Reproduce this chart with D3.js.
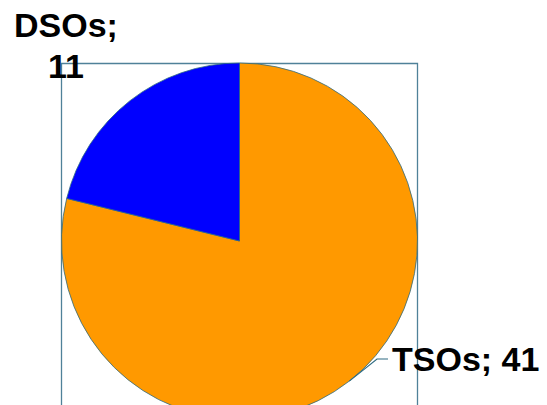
<!DOCTYPE html>
<html>
<head>
<meta charset="utf-8">
<script src="https://cdn.jsdelivr.net/npm/d3@7"></script>
<style>
  html, body { margin: 0; padding: 0; background: #fff; overflow: hidden; }
  svg { display: block; }
</style>
</head>
<body>
<svg id="chart"></svg>
<script>
// chart data
const categories = ["TSOs", "DSOs"];
const values = [41, 11];
const colors = ["#FF9900", "#0000FF"];

const width = 547, height = 405;
const cx = 239.5, cy = 241, r = 178;

const svg = d3.select("#chart")
  .attr("width", width)
  .attr("height", height);

// plot area frame (runs off the bottom)
svg.append("path")
  .attr("d", `M61.5,${height + 5} V63.5 H417.5 V${height + 5}`)
  .attr("fill", "none")
  .attr("stroke", "#4f8199")
  .attr("stroke-width", 1.3);

const pie = d3.pie().sort(null).value(d => d.value);
const arcs = pie(categories.map((c, i) => ({ name: c, value: values[i] })));
const arc = d3.arc().innerRadius(0).outerRadius(r);

const g = svg.append("g").attr("transform", `translate(${cx},${cy})`);

g.selectAll("path")
  .data(arcs)
  .enter().append("path")
    .attr("d", arc)
    .attr("fill", (d, i) => colors[i])
    .attr("stroke", "#2f6b82")
    .attr("stroke-width", 0.8)
    .attr("stroke-linejoin", "round");

// TSOs label with leader line
const tso = arcs[0];
const mid = (tso.startAngle + tso.endAngle) / 2;
const ex = Math.sin(mid) * r, ey = -Math.cos(mid) * r;
g.append("polyline")
  .attr("points", [[ex, ey], [377 - cx, 359 - cy], [388 - cx, 359 - cy]].map(p => p.join(",")).join(" "))
  .attr("fill", "none")
  .attr("stroke", "#2f6b82")
  .attr("stroke-width", 1.2);

svg.append("text")
  .attr("x", 392)
  .attr("y", 371)
  .style("font", "bold 34px 'Liberation Sans', Arial, sans-serif")
  .attr("fill", "#000")
  .text(`${categories[0]}; ${values[0]}`);

// DSOs label (two lines, centered)
const dso = svg.append("text")
  .attr("text-anchor", "middle")
  .style("font", "bold 34px 'Liberation Sans', Arial, sans-serif")
  .attr("fill", "#000");
dso.append("tspan").attr("x", 66).attr("y", 37).text(`${categories[1]};`);
dso.append("tspan").attr("x", 66).attr("y", 78).text(values[1]);
</script>
</body>
</html>
